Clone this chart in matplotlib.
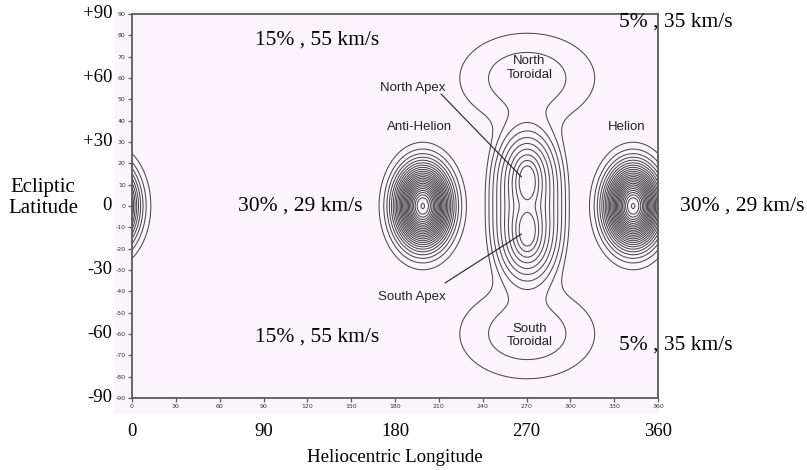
import numpy as np
import matplotlib
matplotlib.use("Agg")
import matplotlib.pyplot as plt
from matplotlib import transforms
from matplotlib.patches import Rectangle

# --- sporadic meteoroid source model -------------------------------------
# helion / anti-helion sources (longitude, latitude, angular width in deg)
sun_src_lon = [199.0, 343.0]
sun_src_lat = [0.0, 0.0]
sun_src_width = 12.0
sun_levels_lo, sun_levels_hi, sun_n_levels = 0.045, 0.95, 24
sun_peak_level = 0.995

# apex / toroidal column centred on the apex longitude
apex_lon = 270.5
apex_lat = [11.5, -11.5]
apex_scale = 5.0
apex_stretch_core = 1.55
apex_stretch_outer = 1.1
apex_core_radius = 9.0
toroid_lat = [60.0, -60.0]
toroid_log_peak = -5.35
toroid_sigma = 16.9
toroid_stretch = 2.2
# equivalent angular distances of the plotted column contours
column_contour_dist = [7.2, 9.8, 12.4, 15.0, 17.6, 20.2, 22.8, 25.4, 28.0, 30.6]

# text annotations
flux_text = ["15% , 55 km/s", "5% , 35 km/s", "30% , 29 km/s", "30% , 29 km/s",
             "15% , 55 km/s", "5% , 35 km/s"]
flux_xy_px = [(317, 40), (676, 22), (300, 206), (742, 206), (317, 337), (676, 345)]

source_names = ["North\nToroidal", "South\nToroidal", "Anti-Helion", "Helion"]
source_name_xy = [(272, 64.5), (272, -60.7), (197, 37), (338.5, 37)]
apex_names = ["North Apex", "South Apex"]
apex_name_px = [(413, 88), (412, 297)]
apex_leader_px = [(441, 94), (445, 283)]
apex_leader_end = [(266.6, 13.6), (266.6, -13.1)]

lat_ticks_small = list(range(-90, 91, 10))
lon_ticks_small = list(range(0, 361, 30))
lat_ticks_big = [90, 60, 30, 0, -30, -60, -90]
lat_ticks_big_lbl = ["+90", "+60", "+30", "0", "-30", "-60", "-90"]
lon_ticks_big = [0, 90, 180, 270, 360]

W, H = 807, 470
fig = plt.figure(figsize=(W / 100, H / 100), dpi=100, facecolor="white")

pink = "#fcf4fc"
line_c = "#4a4a4a"
fig.patches.append(Rectangle((115 / W, 1 - 414 / H), (659 - 115) / W, (414 - 10) / H,
                             transform=fig.transFigure, facecolor=pink,
                             edgecolor="none", zorder=-5))

ax = fig.add_axes([132 / W, 1 - 398 / H, (658 - 132) / W, (398 - 14) / H])
ax.set_facecolor(pink)

lon = np.linspace(0, 360, 1441)
lat = np.linspace(-90, 90, 721)
LON, LAT = np.meshgrid(lon, lat)

# helion & anti-helion (periodic in longitude)
sun = np.zeros_like(LON)
for l0, b0 in zip(sun_src_lon, sun_src_lat):
    dl = (LON - l0 + 180) % 360 - 180
    sun = np.maximum(sun, np.exp(-(dl ** 2 + (LAT - b0) ** 2) / (2 * sun_src_width ** 2)))
sun_levels = list(np.linspace(sun_levels_lo, sun_levels_hi, sun_n_levels)) + [sun_peak_level]
ax.contour(LON, LAT, sun, levels=sun_levels, colors=line_c, linewidths=0.75)

# apex + toroidal column
dl = LON - apex_lon
comp = np.zeros_like(LON)
for b0 in apex_lat:
    r = np.hypot(dl, LAT - b0)
    k = apex_stretch_outer + (apex_stretch_core - apex_stretch_outer) * np.exp(-r / apex_core_radius)
    comp += np.exp(-np.sqrt((dl * k) ** 2 + (LAT - b0) ** 2) / apex_scale)
for b0 in toroid_lat:
    dt2 = (dl / toroid_stretch) ** 2 + (LAT - b0) ** 2
    comp += np.exp(toroid_log_peak - dt2 / (2 * toroid_sigma ** 2))
col = np.log(comp)
col_levels = sorted(-d / apex_scale for d in column_contour_dist)
ax.contour(LON, LAT, col, levels=col_levels, colors=line_c, linewidths=0.75,
           linestyles="solid")

ax.set_xlim(0, 360)
ax.set_ylim(-90, 90)
for s in ax.spines.values():
    s.set_color("#5a5a5a")
    s.set_linewidth(1.3)
ax.set_xticks(lon_ticks_small)
ax.set_xticklabels([str(v) for v in lon_ticks_small])
ax.set_yticks(lat_ticks_small)
ax.set_yticklabels([str(v) for v in lat_ticks_small])
ax.tick_params(axis="both", direction="out", length=3, width=0.9, color="#5a5a5a",
               labelsize=4.5, labelcolor="#333333", pad=1.5)

sans = ["Liberation Sans", "DejaVu Sans"]
serif = ["Liberation Serif", "DejaVu Serif"]

px = lambda x, y: (x / W, 1 - y / H)

# source names and apex leaders
for name, (x, y) in zip(source_names, source_name_xy):
    ax.text(x, y, name, family=sans, fontsize=9.5, ha="center", va="center",
            color="#222222", linespacing=1.2)
for name, (x, y) in zip(apex_names, apex_name_px):
    fig.text(*px(x, y), name, family=sans, fontsize=9.5, ha="center", va="center",
             color="#222222")
for (x, y), end in zip(apex_leader_px, apex_leader_end):
    ax.annotate("", xy=end, xycoords="data", xytext=(x, H - y),
                textcoords="figure pixels",
                arrowprops=dict(arrowstyle="-", color="#222222", lw=0.8,
                                shrinkA=0, shrinkB=0))

# large serif annotations
for t, (x, y) in zip(flux_text, flux_xy_px):
    fig.text(*px(x, y), t, family=serif, fontsize=15.5, ha="center", va="center")

tr_left = transforms.blended_transform_factory(fig.transFigure, ax.transData)
for v, t in zip(lat_ticks_big, lat_ticks_big_lbl):
    fig.text(112 / W, v, t, transform=tr_left, family=serif, fontsize=13.5,
             ha="right", va="center")
tr_bot = transforms.blended_transform_factory(ax.transData, fig.transFigure)
for v in lon_ticks_big:
    fig.text(v, 1 - 431 / H, str(v), transform=tr_bot, family=serif, fontsize=13.5,
             ha="center", va="center")

fig.text(*px(395, 457), "Heliocentric Longitude", family=serif, fontsize=13.6,
         ha="center", va="center")
fig.text(*px(43, 198), "Ecliptic\nLatitude", family=serif, fontsize=15,
         ha="center", va="center", linespacing=1.15)

fig.savefig("out.png", dpi=100, facecolor="white")
